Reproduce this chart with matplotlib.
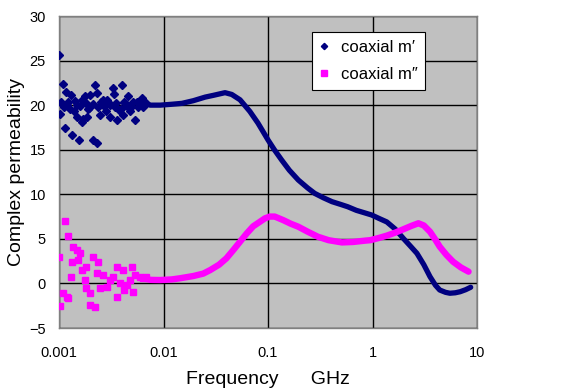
import matplotlib
matplotlib.use("Agg")
import matplotlib.pyplot as plt

# ---- data: m' (real part) noisy low-frequency points ----
m1_scatter_f = [0.001, 0.00102, 0.00107, 0.0011, 0.00117, 0.00115, 0.00123, 0.00127, 0.00129,
                0.00134, 0.00139, 0.00148, 0.0015, 0.00155, 0.00165, 0.00165, 0.00171, 0.00177,
                0.00186, 0.00191, 0.002, 0.00213, 0.00221, 0.0023, 0.00233, 0.00238, 0.00247,
                0.00265, 0.00282, 0.00297, 0.00307, 0.00326, 0.00336, 0.00343, 0.0036, 0.00377,
                0.00398, 0.00412, 0.00428, 0.00461, 0.0048, 0.0049, 0.00533, 0.00554, 0.00618,
                0.00641, 0.0068, 0.00105, 0.00112, 0.0012, 0.00143, 0.0016, 0.0018, 0.00195,
                0.0021, 0.0025, 0.0027, 0.0029, 0.0031, 0.0035, 0.0039, 0.0042, 0.0045, 0.0051,
                0.0057, 0.006]
m1_scatter_v = [25.6, 19.0, 20.1, 22.4, 21.5, 17.4, 20.4, 19.6, 21.1,
                16.6, 19.3, 20.0, 18.7, 16.1, 20.6, 18.1, 18.5, 21.0,
                18.7, 19.6, 21.1, 16.1, 22.3, 21.4, 15.7, 19.8, 18.9,
                20.6, 19.3, 20.4, 18.7, 21.9, 21.3, 19.8, 18.3, 19.5,
                22.3, 18.9, 20.2, 21.0, 19.3, 19.8, 18.3, 20.4, 20.8,
                19.8, 20.2, 20.3, 19.8, 20.0, 20.5, 19.9, 20.2, 19.7,
                20.1, 20.3, 19.9, 20.6, 20.0, 20.2, 19.6, 20.4, 19.9, 20.3,
                19.8, 20.1]

# ---- data: m' smooth part ----
m1_curve_f = [0.0065, 0.0075, 0.0093, 0.012, 0.015, 0.0193, 0.025, 0.03, 0.0388, 0.045,
              0.054, 0.067, 0.08, 0.09, 0.1, 0.115, 0.135, 0.16, 0.195, 0.24, 0.28, 0.34,
              0.41, 0.5, 0.58, 0.7, 0.85, 0.98, 1.15, 1.37, 1.65, 1.97, 2.3, 2.66, 3.1,
              3.55, 4.0, 4.4, 5.0, 5.5, 6.2, 6.9, 7.8, 8.7]
m1_curve_v = [20.1, 20.0, 20.0, 20.1, 20.2, 20.5, 20.9, 21.1, 21.4, 21.2,
              20.6, 19.3, 18.0, 17.0, 16.1, 15.0, 13.85, 12.7, 11.6, 10.7, 10.1, 9.6,
              9.17, 8.85, 8.6, 8.2, 7.9, 7.68, 7.3, 6.9, 6.1, 5.06, 4.2, 3.38, 2.1,
              0.76, -0.2, -0.74, -1.0, -1.1, -1.05, -0.93, -0.7, -0.43]

# ---- data: m'' (imaginary part) noisy low-frequency points ----
m2_scatter_f = [0.001, 0.00102, 0.00114, 0.00123, 0.0011, 0.00118, 0.00121, 0.00132, 0.00135,
                0.0013, 0.00148, 0.00153, 0.00159, 0.00165, 0.00177, 0.0018, 0.00183, 0.00198,
                0.00196, 0.0022, 0.00213, 0.00238, 0.0023, 0.00247, 0.00265, 0.00286, 0.00305,
                0.0033, 0.00357, 0.0036, 0.0038, 0.00412, 0.0042, 0.0045, 0.0048, 0.005,
                0.0051, 0.0053, 0.0059, 0.0064, 0.0068]
m2_scatter_v = [2.93, -2.53, 7.04, 5.32, -1.11, -1.49, -1.67, 2.44, 4.12,
                0.76, 3.75, 2.63, 3.38, 1.5, 0.38, 1.88, -0.55, -1.1,
                -2.4, -2.6, 2.93, 2.44, 1.14, -0.55, 0.95, -0.37, 0.38,
                0.76, 1.81, -1.49, 0.01, 1.5, -0.74, -0.18, 0.38, 1.81,
                -0.93, 0.95, 0.76, 0.58, 0.69]

# ---- data: m'' smooth part ----
m2_curve_f = [0.0065, 0.0075, 0.0093, 0.012, 0.0144, 0.0193, 0.024, 0.028, 0.034, 0.040,
              0.047, 0.054, 0.0625, 0.072, 0.084, 0.0935, 0.104, 0.116, 0.14, 0.165, 0.195,
              0.24, 0.30, 0.38, 0.51, 0.65, 0.85, 0.95, 1.15, 1.37, 1.65, 1.97, 2.35, 2.75,
              3.1, 3.55, 4.0, 4.4, 5.1, 5.9, 7.0, 8.3]
m2_curve_v = [0.55, 0.4, 0.38, 0.45, 0.58, 0.83, 1.1, 1.5, 2.1, 2.82,
              3.8, 4.68, 5.6, 6.4, 6.93, 7.3, 7.5, 7.5, 7.1, 6.7, 6.36,
              5.8, 5.24, 4.85, 4.6, 4.65, 4.8, 4.85, 5.1, 5.36, 5.7, 6.07, 6.45, 6.75,
              6.5, 5.8, 4.9, 4.12, 3.2, 2.44, 1.8, 1.32]

x_ticks = [0.001, 0.01, 0.1, 1, 10]
x_tick_labels = ["0.001", "0.01", "0.1", "1", "10"]
y_ticks = [-5, 0, 5, 10, 15, 20, 25, 30]
label_m1 = "coaxial m\u2032"
label_m2 = "coaxial m\u2033"

NAVY = "#000080"
MAGENTA = "#FF00FF"

plt.rcParams['font.family'] = ['Liberation Sans', 'DejaVu Sans']
fig = plt.figure(figsize=(5.88, 3.92), dpi=100)
ax = fig.add_axes([59/588, 64/392, 418/588, 312/392])
ax.set_facecolor("#C0C0C0")

ax.plot(m1_curve_f, m1_curve_v, color=NAVY, lw=3.8, solid_capstyle='round', zorder=3)
ax.plot(m1_scatter_f, m1_scatter_v, linestyle='none', marker='D', color=NAVY,
        markersize=3.6, zorder=3)
ax.plot(m2_curve_f, m2_curve_v, color=MAGENTA, lw=4.6, solid_capstyle='round', zorder=4)
ax.plot(m2_scatter_f, m2_scatter_v, linestyle='none', marker='s', color=MAGENTA,
        markersize=4.2, zorder=4)

# legend proxies
h1, = ax.plot([], [], linestyle='none', marker='D', color=NAVY, markersize=3.2)
h2, = ax.plot([], [], linestyle='none', marker='s', color=MAGENTA, markersize=3.8)

ax.set_xscale('log')
ax.set_xlim(0.001, 10)
ax.set_ylim(-5, 30)
ax.set_xticks(x_ticks)
ax.set_xticklabels(x_tick_labels)
ax.minorticks_off()
ax.set_yticks(y_ticks)
ax.grid(True, color='black', lw=1.0, zorder=1)
ax.set_axisbelow(True)
ax.tick_params(axis='x', length=0, labelsize=10.5, pad=13)
ax.tick_params(axis='y', length=0, labelsize=10.5, pad=9.5)
for s in ax.spines.values():
    s.set_color('#808080')
    s.set_linewidth(1.0)

ax.set_ylabel("Complex permeability", fontsize=14, labelpad=3)
ax.set_xlabel("Frequency      GHz", fontsize=14, labelpad=8)

leg = ax.legend([h1, h2], [label_m1, label_m2], loc='upper left',
                bbox_to_anchor=(0.605, 0.948), fontsize=12, frameon=True,
                fancybox=False, framealpha=1, edgecolor='black',
                handlelength=0.6, handletextpad=0.7, borderpad=0.45, labelspacing=0.75,
                borderaxespad=0)
leg.get_frame().set_linewidth(0.8)

fig.savefig("out.png", dpi=100)
